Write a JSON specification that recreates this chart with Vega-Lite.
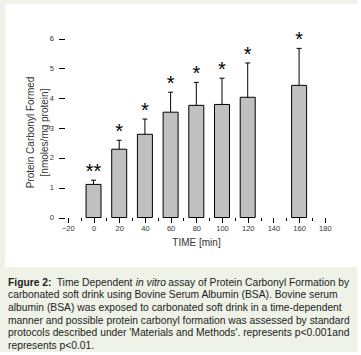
{
  "$schema": "https://vega.github.io/schema/vega-lite/v6.json",
  "background": "#eef2e7",
  "padding": {"left": 5, "top": 4, "right": 0, "bottom": 0},
  "bounds": "flush",
  "spacing": 15.5,
  "config": {"view": {"stroke": null}, "font": "Liberation Sans"},
  "datasets": {
    "bars": [
      {"time": 0, "mean": 1.11, "upper": 1.25, "sig": "**"},
      {"time": 20, "mean": 2.29, "upper": 2.59, "sig": "*"},
      {"time": 40, "mean": 2.79, "upper": 3.30, "sig": "*"},
      {"time": 60, "mean": 3.53, "upper": 4.20, "sig": "*"},
      {"time": 80, "mean": 3.76, "upper": 4.53, "sig": "*"},
      {"time": 100, "mean": 3.79, "upper": 4.67, "sig": "*"},
      {"time": 120, "mean": 4.03, "upper": 5.18, "sig": "*"},
      {"time": 160, "mean": 4.43, "upper": 5.67, "sig": "*"}
    ],
    "caption": [
      {"line": 1, "part": "a", "text": "Figure 2:"},
      {"line": 1, "part": "b", "text": "Time Dependent"},
      {"line": 1, "part": "c", "text": "in vitro"},
      {"line": 1, "part": "d", "text": "assay of Protein Carbonyl Formation by"},
      {"line": 2, "part": "body", "text": "carbonated soft drink using Bovine Serum Albumin (BSA). Bovine serum"},
      {"line": 3, "part": "body", "text": "albumin (BSA) was exposed to carbonated soft drink in a time-dependent"},
      {"line": 4, "part": "body", "text": "manner and possible protein carbonyl formation was assessed by standard"},
      {"line": 5, "part": "body", "text": "protocols described under 'Materials and Methods'. represents p<0.001and"},
      {"line": 6, "part": "body", "text": "represents p<0.01."}
    ]
  },
  "vconcat": [
    {
      "width": 352,
      "height": 263,
      "view": {"fill": "white", "stroke": null},
      "data": {"name": "bars"},
      "encoding": {
        "x": {
          "field": "time",
          "type": "quantitative",
          "scale": {"domain": [-65, 201.17], "nice": false, "zero": false},
          "axis": {
            "orient": "bottom",
            "offset": -49.5,
            "values": [-20, -10, 0, 10, 20, 30, 40, 50, 60, 70, 80, 90, 100, 110, 120, 130, 140, 150, 160, 170, 180],
            "labelExpr": "datum.value % 20 === 0 ? datum.label : ''",
            "tickSize": {"condition": {"test": "datum.value % 20 === 0", "value": 5}, "value": 3},
            "tickColor": "black",
            "domain": false,
            "grid": false,
            "labelFontSize": 7.5,
            "labelColor": "#333",
            "labelPadding": 2,
            "labelOverlap": false,
            "labelFlush": false,
            "title": "TIME  [min]",
            "titleX": 191,
            "titleY": 28,
            "titleBaseline": "alphabetic",
            "titleAlign": "center",
            "titleFontSize": 10,
            "titleFontWeight": "normal",
            "titleColor": "#333"
          }
        }
      },
      "layer": [
        {
          "mark": {"type": "bar", "width": 15, "fill": "#c0c0c0", "stroke": "black", "strokeWidth": 1},
          "encoding": {
            "y": {
              "field": "mean",
              "type": "quantitative",
              "scale": {"domain": [-1.659, 7.157], "nice": false, "zero": false},
              "axis": {
                "orient": "left",
                "offset": -59.5,
                "values": [0, 0.5, 1, 1.5, 2, 2.5, 3, 3.5, 4, 4.5, 5, 5.5, 6],
                "labelExpr": "datum.value % 1 === 0 ? datum.label : ''",
                "tickSize": {"condition": {"test": "datum.value % 1 === 0", "value": 6}, "value": 3},
                "tickColor": "black",
                "domain": false,
                "grid": false,
                "labelFontSize": 7.5,
                "labelColor": "#333",
                "labelPadding": 5,
                "labelOverlap": false,
                "labelFlush": false,
                "title": ["Protein Carbonyl Formed", "[nmoles/mg protein]"],
                "titleAngle": 270,
                "titleX": -31,
                "titleY": 128,
                "titleBaseline": "alphabetic",
                "titleAlign": "center",
                "titleLineHeight": 14,
                "titleFontSize": 10,
                "titleFontWeight": "normal",
                "titleColor": "#333"
              }
            },
            "y2": {"datum": 0}
          }
        },
        {
          "mark": {"type": "rule", "color": "black", "strokeWidth": 1},
          "encoding": {
            "y": {"field": "mean", "type": "quantitative"},
            "y2": {"field": "upper"}
          }
        },
        {
          "mark": {"type": "tick", "orient": "horizontal", "size": 5, "thickness": 1, "color": "black", "opacity": 1},
          "encoding": {
            "y": {"field": "upper", "type": "quantitative"}
          }
        },
        {
          "mark": {"type": "text", "fontSize": 20, "baseline": "alphabetic", "align": "center", "dy": -2, "color": "black"},
          "encoding": {
            "y": {"field": "upper", "type": "quantitative"},
            "text": {"field": "sig"}
          }
        },
        {
          "data": {"values": [{}]},
          "mark": {"type": "rule", "color": "black", "strokeWidth": 1},
          "encoding": {
            "x": {"datum": -20, "type": "quantitative"},
            "y": {"datum": 0, "type": "quantitative"},
            "y2": {"datum": 6.5}
          }
        },
        {
          "data": {"values": [{}]},
          "mark": {"type": "rule", "color": "black", "strokeWidth": 1},
          "encoding": {
            "x": {"datum": -20, "type": "quantitative"},
            "x2": {"datum": 180},
            "y": {"datum": 0, "type": "quantitative"}
          }
        }
      ]
    },
    {
      "width": 352,
      "height": 63.5,
      "data": {"name": "caption"},
      "encoding": {
        "x": {"datum": 0, "type": "quantitative", "scale": {"domain": [0, 1], "nice": false, "zero": false}, "axis": null},
        "y": {"field": "line", "type": "quantitative", "scale": {"domain": [1, 6], "reverse": true, "nice": false, "zero": false}, "axis": null},
        "text": {"field": "text"}
      },
      "layer": [
        {
          "transform": [{"filter": "datum.part === 'a'"}],
          "mark": {"type": "text", "align": "left", "baseline": "middle", "fontSize": 10.3, "fontWeight": "bold", "color": "#222", "dx": 3}
        },
        {
          "transform": [{"filter": "datum.part === 'b'"}],
          "mark": {"type": "text", "align": "left", "baseline": "middle", "fontSize": 10.3, "color": "#222", "dx": 51.7}
        },
        {
          "transform": [{"filter": "datum.part === 'c'"}],
          "mark": {"type": "text", "align": "left", "baseline": "middle", "fontSize": 10.3, "fontStyle": "italic", "color": "#222", "dx": 130.7}
        },
        {
          "transform": [{"filter": "datum.part === 'd'"}],
          "mark": {"type": "text", "align": "left", "baseline": "middle", "fontSize": 10.3, "color": "#222", "dx": 163.3}
        },
        {
          "transform": [{"filter": "datum.part === 'body'"}],
          "mark": {"type": "text", "align": "left", "baseline": "middle", "fontSize": 10.3, "color": "#222", "dx": 3}
        }
      ]
    }
  ]
}
